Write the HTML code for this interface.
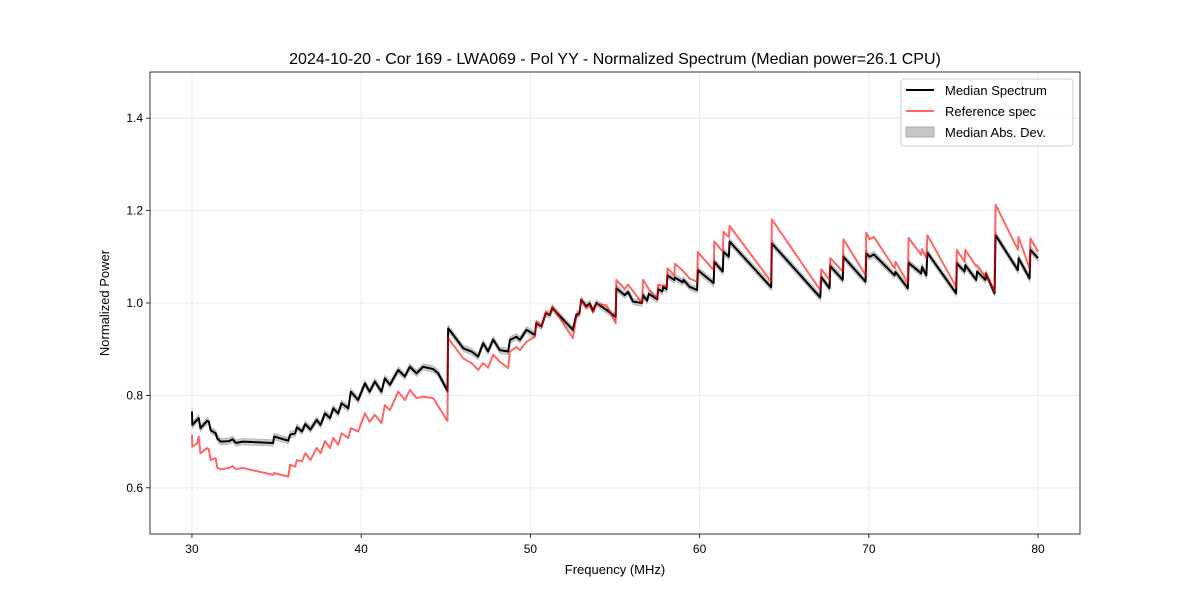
<!DOCTYPE html>
<html><head><meta charset="utf-8"><style>
body{margin:0;background:#fff;font-family:"Liberation Sans","DejaVu Sans",sans-serif}
</style></head><body>
<svg id="chart" width="1200" height="600" xmlns="http://www.w3.org/2000/svg" font-family="Liberation Sans, DejaVu Sans, sans-serif">
<rect width="1200" height="600" fill="#fff"/>
<g id="grid"></g><g id="band"></g><g id="lines"></g><g id="axes"></g>
<text x="615" y="64" text-anchor="middle" font-size="16">2024-10-20 - Cor 169 - LWA069 - Pol YY - Normalized Spectrum (Median power=26.1 CPU)</text>
<text x="615" y="574" text-anchor="middle" font-size="13">Frequency (MHz)</text>
<text transform="translate(109,303) rotate(-90)" text-anchor="middle" font-size="13">Normalized Power</text>
<g>
<rect x="901" y="79" width="172" height="67" rx="3" fill="#fff" fill-opacity="0.8" stroke="#ccc"/>
<line x1="906" y1="90" x2="934" y2="90" stroke="#000" stroke-width="2"/>
<text x="945" y="95" font-size="13">Median Spectrum</text>
<line x1="906" y1="111" x2="934" y2="111" stroke="#ff0000" stroke-opacity="0.6" stroke-width="2"/>
<text x="945" y="116" font-size="13">Reference spec</text>
<rect x="906" y="127" width="28" height="10" fill="#c8c8c8" stroke="#aaa"/>
<text x="945" y="137" font-size="13">Median Abs. Dev.</text>
</g>
</svg>
<script>
const medF=[30,30.02,30.2,30.4,30.5,30.9,31.0,31.1,31.4,31.5,31.7,32.2,32.4,32.6,33.0,34.8,34.85,35.69,35.8,36.1,36.2,36.5,36.7,37.0,37.37,37.6,37.86,38.16,38.35,38.64,38.84,39.24,39.39,39.82,40.22,40.5,40.81,41.2,41.4,41.7,42.19,42.58,42.88,43.27,43.66,44.25,44.55,45.1,45.14,45.38,46.03,46.52,46.91,47.21,47.5,47.8,48.19,48.69,48.79,49.18,49.38,49.77,50.26,50.35,50.65,50.91,51.14,51.3,52.51,52.71,52.9,53.0,53.3,53.5,53.7,53.9,54.5,55.04,55.08,55.57,55.77,56.07,56.6,56.66,56.9,57.0,57.5,57.55,57.8,57.85,58.05,58.1,58.5,58.55,59.0,59.05,59.41,59.85,59.9,60.83,60.87,61.37,61.41,61.73,61.77,64.23,64.27,67.13,67.19,67.68,67.72,68.46,68.5,69.81,69.85,70.05,70.3,71.52,71.58,72.31,72.35,73.1,73.14,73.4,73.46,75.16,75.2,75.66,75.7,76.35,76.4,76.9,76.92,77.43,77.49,78.81,78.85,79.5,79.55,80.0];
const medV=[0.765,0.736,0.743,0.751,0.729,0.745,0.743,0.725,0.718,0.707,0.700,0.701,0.705,0.697,0.700,0.697,0.711,0.702,0.715,0.718,0.731,0.722,0.738,0.726,0.747,0.736,0.761,0.751,0.772,0.761,0.783,0.772,0.808,0.790,0.826,0.808,0.830,0.808,0.837,0.823,0.855,0.841,0.862,0.848,0.862,0.857,0.848,0.810,0.945,0.934,0.902,0.895,0.884,0.913,0.895,0.921,0.898,0.895,0.920,0.927,0.920,0.942,0.931,0.956,0.949,0.978,0.974,0.989,0.942,0.974,0.978,1.007,0.993,0.999,0.983,1.000,0.985,0.970,1.032,1.017,1.024,1.003,1.000,1.017,1.005,1.020,1.008,1.030,1.025,1.035,1.030,1.060,1.050,1.055,1.045,1.050,1.035,1.028,1.071,1.043,1.089,1.068,1.111,1.100,1.133,1.034,1.129,1.012,1.056,1.032,1.080,1.050,1.100,1.046,1.107,1.100,1.105,1.060,1.067,1.032,1.087,1.064,1.078,1.060,1.109,1.021,1.086,1.068,1.082,1.050,1.068,1.050,1.064,1.021,1.147,1.071,1.097,1.053,1.115,1.097];
const refF=[30,30.02,30.3,30.4,30.5,30.9,31.0,31.1,31.4,31.5,31.7,32.2,32.4,32.6,33.0,34.8,34.85,35.69,35.8,36.1,36.2,36.5,36.7,37.0,37.37,37.6,37.86,38.16,38.35,38.64,38.84,39.24,39.39,39.82,40.22,40.5,40.81,41.2,41.4,41.7,42.19,42.58,42.88,43.27,43.66,44.25,45.1,45.14,46.03,46.52,46.91,47.21,47.5,47.8,48.19,48.69,48.79,49.18,49.38,49.77,50.26,50.35,50.65,50.91,51.14,51.3,52.51,52.71,52.9,53.0,53.3,53.5,53.7,53.9,54.5,55.04,55.08,55.57,55.77,56.6,56.66,57.0,57.5,57.55,58.05,58.1,58.5,58.55,59.0,59.41,59.85,59.9,60.83,60.87,61.37,61.41,61.73,61.77,64.23,64.27,67.13,67.19,67.68,67.72,68.46,68.5,69.81,69.85,70.05,70.3,71.52,71.58,72.31,72.35,73.1,73.14,73.4,73.46,75.16,75.2,75.66,75.7,76.35,76.4,76.9,76.92,77.43,77.49,78.81,78.85,79.5,79.55,80.0];
const refV=[0.715,0.689,0.696,0.711,0.675,0.686,0.683,0.660,0.664,0.643,0.640,0.643,0.647,0.640,0.643,0.628,0.632,0.624,0.650,0.646,0.660,0.657,0.675,0.660,0.686,0.675,0.701,0.686,0.708,0.693,0.718,0.708,0.729,0.722,0.761,0.743,0.758,0.740,0.779,0.768,0.808,0.790,0.812,0.794,0.797,0.794,0.745,0.924,0.880,0.870,0.855,0.870,0.860,0.888,0.873,0.859,0.895,0.905,0.898,0.916,0.927,0.960,0.950,0.980,0.975,0.992,0.924,0.970,0.975,1.007,0.990,0.995,0.980,0.998,0.995,0.956,1.050,1.030,1.040,1.000,1.050,1.030,1.010,1.040,1.035,1.075,1.060,1.085,1.070,1.053,1.046,1.110,1.071,1.133,1.111,1.154,1.143,1.167,1.046,1.181,1.028,1.073,1.050,1.097,1.068,1.138,1.060,1.152,1.138,1.143,1.075,1.089,1.043,1.141,1.104,1.117,1.097,1.147,1.035,1.115,1.089,1.115,1.079,1.082,1.057,1.064,1.025,1.213,1.115,1.143,1.075,1.140,1.111];
const madV=0.007;
const xTicks=[30,40,50,60,70,80];
const yTicks=[0.6,0.8,1.0,1.2,1.4];
const L=150,R=1080,T=72,B=534;
const X=f=>L+(f-27.52)/(82.48-27.52)*(R-L);
const Y=v=>B-(v-0.5)/(1.5-0.5)*(B-T);
const NS='http://www.w3.org/2000/svg';
function mk(p,tag,at){const e=document.createElementNS(NS,tag);for(const k in at)e.setAttribute(k,at[k]);p.appendChild(e);return e;}
const grid=document.getElementById('grid'),axes=document.getElementById('axes');
xTicks.forEach(t=>{
 const gl=mk(grid,'line',{x1:X(t),x2:X(t),y1:T,y2:B,stroke:'#e6e6e6','stroke-width':0.8});
 
 
 mk(axes,'line',{x1:X(t),x2:X(t),y1:B,y2:B+4,stroke:'#000','stroke-width':0.8});
 const tx=mk(axes,'text',{x:X(t),y:B+19,'text-anchor':'middle','font-size':12});
 tx.textContent=t;
 
 
});
yTicks.forEach(t=>{
 const gl=mk(grid,'line',{x1:L,x2:R,y1:Y(t),y2:Y(t),stroke:'#e6e6e6','stroke-width':0.8});
 
 
 mk(axes,'line',{x1:L-4,x2:L,y1:Y(t),y2:Y(t),stroke:'#000','stroke-width':0.8});
 const tx=mk(axes,'text',{x:L-7,y:Y(t)+4,'text-anchor':'end','font-size':12});
 tx.textContent=t.toFixed(1);
 
 
});
const frame=mk(axes,'rect',{x:L,y:T,width:R-L,height:B-T,fill:'none',stroke:'#000','stroke-width':0.8});


let up=medF.map((f,i)=>X(f)+','+Y(medV[i]+madV)),dn=medF.map((f,i)=>X(f)+','+Y(medV[i]-madV)).reverse();
const band=mk(document.getElementById('band'),'polygon',{points:up.concat(dn).join(' '),fill:'#bdbdbd','fill-opacity':0.8,stroke:'#aaa','stroke-width':0.6});


const lines=document.getElementById('lines');
const med=mk(lines,'polyline',{points:medF.map((f,i)=>X(f)+','+Y(medV[i])).join(' '),fill:'none',stroke:'#000','stroke-width':2,'stroke-linejoin':'round'});


const ref=mk(lines,'polyline',{points:refF.map((f,i)=>X(f)+','+Y(refV[i])).join(' '),fill:'none',stroke:'#ff0000','stroke-opacity':0.6,'stroke-width':2,'stroke-linejoin':'round'});


</script>
</body></html>
